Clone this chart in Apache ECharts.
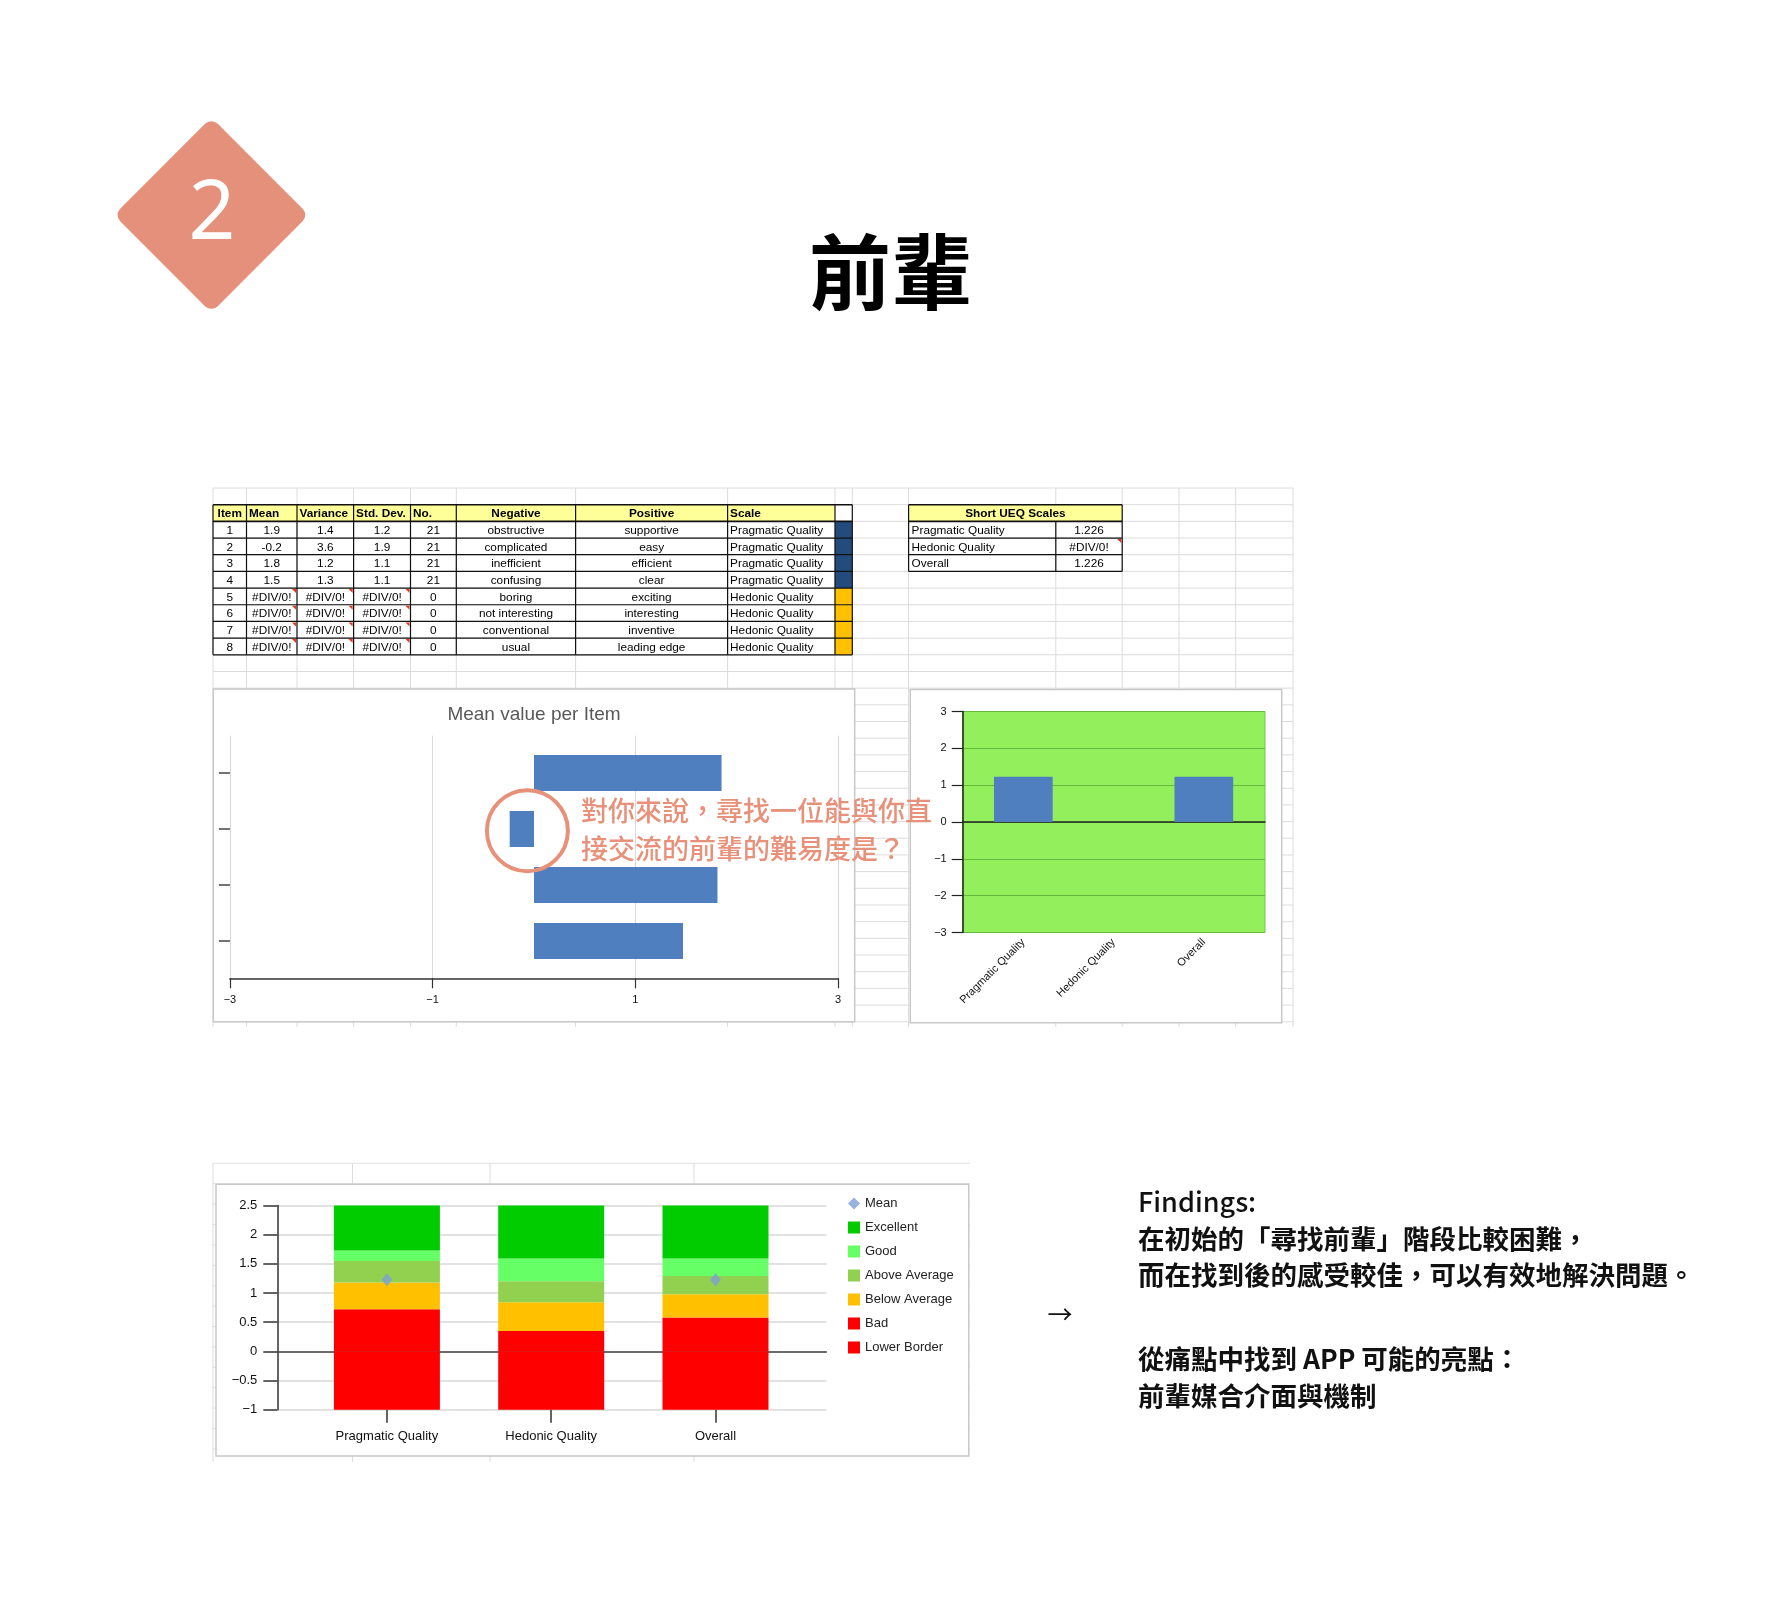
<!DOCTYPE html>
<html>
<head>
<meta charset="utf-8">
<title>前輩 UEQ</title>
<script src="https://cdn.jsdelivr.net/npm/echarts@6.0.0/dist/echarts.min.js"></script>
<style>
html, body { margin: 0; padding: 0; background: #fff; }
#main { width: 1783px; height: 1622px; }
</style>
</head>
<body>
<div id="main"></div>
<script>
// ---- 資料 ----
var tableHeader = ['Item', 'Mean', 'Variance', 'Std. Dev.', 'No.', 'Negative', 'Positive', 'Scale'];
var tableItem = ['1', '2', '3', '4', '5', '6', '7', '8'];
var tableMean = ['1.9', '-0.2', '1.8', '1.5', '#DIV/0!', '#DIV/0!', '#DIV/0!', '#DIV/0!'];
var tableVariance = ['1.4', '3.6', '1.2', '1.3', '#DIV/0!', '#DIV/0!', '#DIV/0!', '#DIV/0!'];
var tableStdDev = ['1.2', '1.9', '1.1', '1.1', '#DIV/0!', '#DIV/0!', '#DIV/0!', '#DIV/0!'];
var tableCount = ['21', '21', '21', '21', '0', '0', '0', '0'];
var negativeWords = ['obstructive', 'complicated', 'inefficient', 'confusing', 'boring', 'not interesting', 'conventional', 'usual'];
var positiveWords = ['supportive', 'easy', 'efficient', 'clear', 'exciting', 'interesting', 'inventive', 'leading edge'];
var itemScale = ['Pragmatic Quality', 'Pragmatic Quality', 'Pragmatic Quality', 'Pragmatic Quality',
                 'Hedonic Quality', 'Hedonic Quality', 'Hedonic Quality', 'Hedonic Quality'];

var ueqScales = ['Pragmatic Quality', 'Hedonic Quality', 'Overall'];
var ueqValues = ['1.226', '#DIV/0!', '1.226'];

// Mean value per Item
var itemCats = ['1', '2', '3', '4'];
var itemMeans = [1.85, -0.24, 1.81, 1.47];

// Short UEQ scales
var scaleMeans = [1.226, null, 1.226];

// benchmark
var lowerBorder = [-1, -1, -1];
var bad = [0.72, 0.35, 0.58];
var belowAvg = [0.46, 0.49, 0.40];
var aboveAvg = [0.37, 0.36, 0.31];
var good = [0.18, 0.39, 0.30];
var excellent = [0.77, 0.91, 0.91];

var FONT = '"Liberation Sans", Arial, sans-serif';
var CJK = '"Noto Sans CJK TC", "Noto Sans CJK SC", sans-serif';
var ORANGE = '#E8917A';

function minus(v) { return String(v).replace('-', '\u2212'); }

var g = [];
function line(x1, y1, x2, y2, color, w, z) {
    g.push({ type: 'line', silent: true, z: z || 0, shape: { x1: x1, y1: y1, x2: x2, y2: y2 },
        style: { stroke: color, lineWidth: w || 1 } });
}
function rect(x, y, w, h, fill, stroke, lw, z) {
    g.push({ type: 'rect', silent: true, z: z || 1, shape: { x: x, y: y, width: w, height: h },
        style: { fill: fill, stroke: stroke || null, lineWidth: lw || 0 } });
}
function text(str, x, y, o) {
    o = o || {};
    g.push({ type: 'text', silent: true, z: o.z || 2,
        style: { text: str, x: x, y: y, fill: o.color || '#000',
            font: (o.weight || 'normal') + ' ' + (o.size || 11.8) + 'px ' + (o.family || FONT),
            align: o.align || 'left', textAlign: o.align || 'left',
            verticalAlign: 'middle', textVerticalAlign: 'middle' } });
}
function errMark(xr, yt) {
    g.push({ type: 'polygon', silent: true, z: 3, shape: { points: [[xr - 5, yt + 1], [xr - 1, yt + 1], [xr - 1, yt + 5]] },
        style: { fill: '#E8361C' } });
}

// ---- 試算表格線 ----
var SHEET_COLS = [213, 246.5, 297, 353.6, 410.5, 456.3, 575.6, 727.6, 835, 852.3, 908.6, 1055.8, 1122.2, 1179, 1235.7, 1293];
var ROW0 = 488, RH = 16.68;
for (var k = 0; k <= 32; k++) line(213, ROW0 + k * RH, 1293, ROW0 + k * RH, '#DCDCDC', 1, 0);
SHEET_COLS.forEach(function (x) { line(x, ROW0, x, 1027, '#DCDCDC', 1, 0); });

// ---- 主表 ----
var TC = SHEET_COLS.slice(0, 10);
var TR0 = ROW0 + RH;
var tableCols = [tableItem, tableMean, tableVariance, tableStdDev, tableCount, negativeWords, positiveWords, itemScale];
var headAlign = ['center', 'left', 'left', 'left', 'left', 'center', 'center', 'left'];
var bodyAlign = ['center', 'center', 'center', 'center', 'center', 'center', 'center', 'left'];
rect(TC[0], TR0, TC[8] - TC[0], RH, '#FFFF99');
rect(TC[8], TR0, TC[9] - TC[8], RH, '#fff');
tableHeader.forEach(function (h, c) {
    var x = headAlign[c] === 'center' ? (TC[c] + TC[c + 1]) / 2 : TC[c] + 2.5;
    text(h, x, TR0 + RH / 2 + 0.5, { weight: 'bold', align: headAlign[c] });
});
tableItem.forEach(function (_, r) {
    var yt = TR0 + (r + 1) * RH;
    rect(TC[8], yt, TC[9] - TC[8], RH, itemScale[r] === 'Pragmatic Quality' ? '#244B7E' : '#FFC000');
    tableCols.forEach(function (col, c) {
        var x = bodyAlign[c] === 'center' ? (TC[c] + TC[c + 1]) / 2 : TC[c] + 2.5;
        text(col[r], x, yt + RH / 2 + 1, { align: bodyAlign[c] });
        if (col[r] === '#DIV/0!') errMark(TC[c + 1], yt);
    });
});
for (var i = 0; i <= 9; i++) line(TC[0], TR0 + i * RH, TC[9], TR0 + i * RH, '#111', i <= 1 ? 1.6 : 1.2, 3);
TC.forEach(function (x) { line(x, TR0, x, TR0 + 9 * RH, '#111', 1.2, 3); });

// ---- Short UEQ Scales ----
var UC = [908.6, 1055.8, 1122.2];
rect(UC[0], TR0, UC[2] - UC[0], RH, '#FFFF99');
text('Short UEQ Scales', (UC[0] + UC[2]) / 2, TR0 + RH / 2 + 0.5, { weight: 'bold', align: 'center' });
ueqScales.forEach(function (s, r) {
    var yt = TR0 + (r + 1) * RH;
    text(s, UC[0] + 3, yt + RH / 2 + 1);
    text(ueqValues[r], (UC[1] + UC[2]) / 2, yt + RH / 2 + 1, { align: 'center' });
    if (ueqValues[r] === '#DIV/0!') errMark(UC[2], yt);
});
for (var j = 0; j <= 4; j++) line(UC[0], TR0 + j * RH, UC[2], TR0 + j * RH, '#111', j <= 1 ? 1.6 : 1.2, 3);
line(UC[0], TR0, UC[0], TR0 + 4 * RH, '#111', 1.2, 3);
line(UC[2], TR0, UC[2], TR0 + 4 * RH, '#111', 1.2, 3);
line(UC[1], TR0 + RH, UC[1], TR0 + 4 * RH, '#111', 1.2, 3);

// ---- 圖表外框 ----
rect(213.3, 689, 641.4, 332.7, '#fff', '#C8C8C8', 1.5, 1);
rect(910.3, 689.5, 371.4, 333.2, '#fff', '#C8C8C8', 1.5, 1);
text('Mean value per Item', 534, 715, { size: 19, color: '#595959', align: 'center', z: 4 });

// ---- 下方試算表格線 + 外框 ----
for (var m = 0; m <= 14; m++) line(212.6, 1163.3 + m * 20.4, 970, 1163.3 + m * 20.4, '#E2E2E2', 1, 0);
[213, 352.5, 490, 694].forEach(function (x) { line(x, 1163.3, x, 1462, '#DCDCDC', 1, 0); });
rect(216, 1184.3, 752.8, 271.7, '#fff', '#C8C8C8', 1.5, 1);

// ---- 標題 ----
g.push({ type: 'rect', silent: true, z: 2, x: 211.4, y: 215, rotation: Math.PI / 4,
    shape: { x: -69, y: -69, width: 138, height: 138, r: 9 }, style: { fill: '#E5907A' } });
text('2', 212, 216, { size: 82, color: '#fff', family: '"Noto Sans", sans-serif', weight: 'normal', align: 'center', z: 3 });
text('前輩', 891, 272, { size: 82, weight: 'bold', family: CJK, align: 'center' });

// ---- Findings ----
text('Findings:', 1138, 1202, { size: 27, family: CJK, weight: '500', color: '#111' });
text('在初始的「尋找前輩」階段比較困難，', 1138, 1238.5, { size: 26.5, family: CJK, weight: 'bold', color: '#111' });
text('而在找到後的感受較佳，可以有效地解決問題。', 1138, 1275, { size: 26.5, family: CJK, weight: 'bold', color: '#111' });
text('→', 1060, 1314.5, { size: 25, family: CJK, align: 'center', color: '#111' });
text('從痛點中找到 APP 可能的亮點：', 1138, 1359, { size: 26.5, family: CJK, weight: 'bold', color: '#111' });
text('前輩媒合介面與機制', 1138, 1395.5, { size: 26.5, family: CJK, weight: 'bold', color: '#111' });

// ---- 標註 ----
g.push({ type: 'circle', silent: true, z: 10, shape: { cx: 527.4, cy: 830.8, r: 40.5 },
    style: { fill: 'none', stroke: ORANGE, lineWidth: 4 } });
text('對你來說，尋找一位能與你直', 581, 811, { size: 27, family: CJK, weight: '500', color: ORANGE, z: 10 });
text('接交流的前輩的難易度是？', 581, 848.3, { size: 27, family: CJK, weight: '500', color: ORANGE, z: 10 });

// ---- 圖表 ----
var myChart = echarts.init(document.getElementById('main'), null, { renderer: 'canvas' });
var hidden = { show: false };
var stackColors = { 'Lower Border': '#FF0000', 'Bad': '#FF0000', 'Below Average': '#FFC000',
    'Above Average': '#92D050', 'Good': '#66FF66', 'Excellent': '#00CC00' };
function stackSeries(name, data) {
    return { type: 'bar', name: name, stack: 'bench', xAxisIndex: 5, yAxisIndex: 5, data: data,
        barWidth: 106, itemStyle: { color: stackColors[name] }, z: 4 };
}

var option = {
    animation: false,
    textStyle: { fontFamily: FONT },
    legend: {
        orient: 'vertical', left: 843, top: 1192, itemWidth: 12, itemHeight: 12, itemGap: 11, z: 4,
        textStyle: { fontSize: 13, color: '#222', lineHeight: 13 },
        data: [
            { name: 'Mean', icon: 'diamond' },
            { name: 'Excellent', icon: 'rect' },
            { name: 'Good', icon: 'rect' },
            { name: 'Above Average', icon: 'rect' },
            { name: 'Below Average', icon: 'rect' },
            { name: 'Bad', icon: 'rect' },
            { name: 'Lower Border', icon: 'rect' }
        ],
        selectedMode: false
    },
    grid: [
        { left: 229.9, top: 735.7, width: 608.2, height: 242.6, z: 3 },
        { left: 229.9, top: 745.05, width: 608.2, height: 223.9, z: 3 },
        { left: 962.7, top: 711.5, width: 302.3, height: 221, z: 3, show: true,
          backgroundColor: '#93EF5C', borderColor: '#72C64A', borderWidth: 1 },
        { left: 978.2, top: 711.5, width: 270.75, height: 221, z: 3 },
        { left: 277.3, top: 1205.5, width: 549.1, height: 204.2, z: 3 },
        { left: 304.75, top: 1205.5, width: 492.9, height: 204.2, z: 3 }
    ],
    xAxis: [
        { gridIndex: 0, type: 'value', min: -3, max: 3, interval: 2, z: 3,
          axisLine: { show: true, lineStyle: { color: '#333', width: 1.5 } },
          axisTick: { show: true, length: 10, lineStyle: { color: '#333', width: 1.2 } },
          axisLabel: { fontSize: 11, color: '#111', margin: 16, formatter: minus },
          splitLine: { show: true, lineStyle: { color: '#D9D9D9', width: 1 } } },
        { gridIndex: 1, type: 'value', min: -3, max: 3, show: false },
        { gridIndex: 2, type: 'value', min: 0, max: 1, z: 3,
          axisLine: { show: true, onZero: true, lineStyle: { color: '#222', width: 1.5 } },
          axisTick: hidden, axisLabel: hidden, splitLine: hidden },
        { gridIndex: 3, type: 'category', data: ueqScales, z: 3,
          axisLine: hidden, axisTick: hidden,
          axisLabel: { interval: 0, rotate: 45, fontSize: 11, color: '#111', margin: 8 } },
        { gridIndex: 4, type: 'value', min: 0, max: 1, z: 3,
          axisLine: { show: true, onZero: true, lineStyle: { color: '#444', width: 1.5 } },
          axisTick: hidden, axisLabel: hidden, splitLine: hidden },
        { gridIndex: 5, type: 'category', data: ueqScales, z: 3,
          axisLine: { show: false, onZero: false },
          axisTick: { show: true, alignWithLabel: true, interval: 0, length: 13, lineStyle: { color: '#333', width: 1.5 } },
          axisLabel: { interval: 0, fontSize: 13, color: '#111', margin: 20 } }
    ],
    yAxis: [
        { gridIndex: 0, type: 'value', min: 0, max: 1, show: false },
        { gridIndex: 1, type: 'category', data: itemCats, inverse: true, z: 3,
          axisLine: { show: false, onZero: false },
          axisTick: { show: true, alignWithLabel: true, interval: 0, length: 11, lineStyle: { color: '#444', width: 1.5 } },
          axisLabel: hidden },
        { gridIndex: 2, type: 'value', min: -3, max: 3, interval: 1, z: 3,
          axisLine: { show: true, onZero: false, lineStyle: { color: '#222', width: 1.5 } },
          axisTick: { show: true, length: 11, lineStyle: { color: '#222', width: 1.2 } },
          axisLabel: { fontSize: 11, color: '#111', margin: 16, formatter: minus },
          splitLine: { show: true, lineStyle: { color: '#66B83E', width: 1 } } },
        { gridIndex: 3, type: 'value', min: -3, max: 3, show: false },
        { gridIndex: 4, type: 'value', min: -1, max: 2.5, interval: 0.5, z: 3,
          axisLine: { show: true, onZero: false, lineStyle: { color: '#333', width: 1.5 } },
          axisTick: { show: true, length: 14, lineStyle: { color: '#333', width: 1.5 } },
          axisLabel: { fontSize: 13, color: '#111', margin: 20, formatter: minus },
          splitLine: { show: true, lineStyle: { color: '#D9D9D9', width: 1.5 } } },
        { gridIndex: 5, type: 'value', min: -1, max: 2.5, show: false }
    ],
    series: [
        { type: 'bar', xAxisIndex: 1, yAxisIndex: 1, data: itemMeans, barWidth: 36,
          itemStyle: { color: '#4F7FBF' }, z: 4 },
        { type: 'bar', xAxisIndex: 3, yAxisIndex: 3, data: scaleMeans, barWidth: 58.7,
          itemStyle: { color: '#4F7FBF' }, z: 4 },
        stackSeries('Lower Border', lowerBorder),
        stackSeries('Bad', bad),
        stackSeries('Below Average', belowAvg),
        stackSeries('Above Average', aboveAvg),
        stackSeries('Good', good),
        stackSeries('Excellent', excellent),
        { type: 'scatter', name: 'Mean', xAxisIndex: 5, yAxisIndex: 5, data: scaleMeans,
          symbol: 'diamond', symbolSize: [11, 13], itemStyle: { color: '#7E9FD5' }, z: 6 }
    ],
    graphic: { elements: g }
};

myChart.setOption(option);
</script>
</body>
</html>
